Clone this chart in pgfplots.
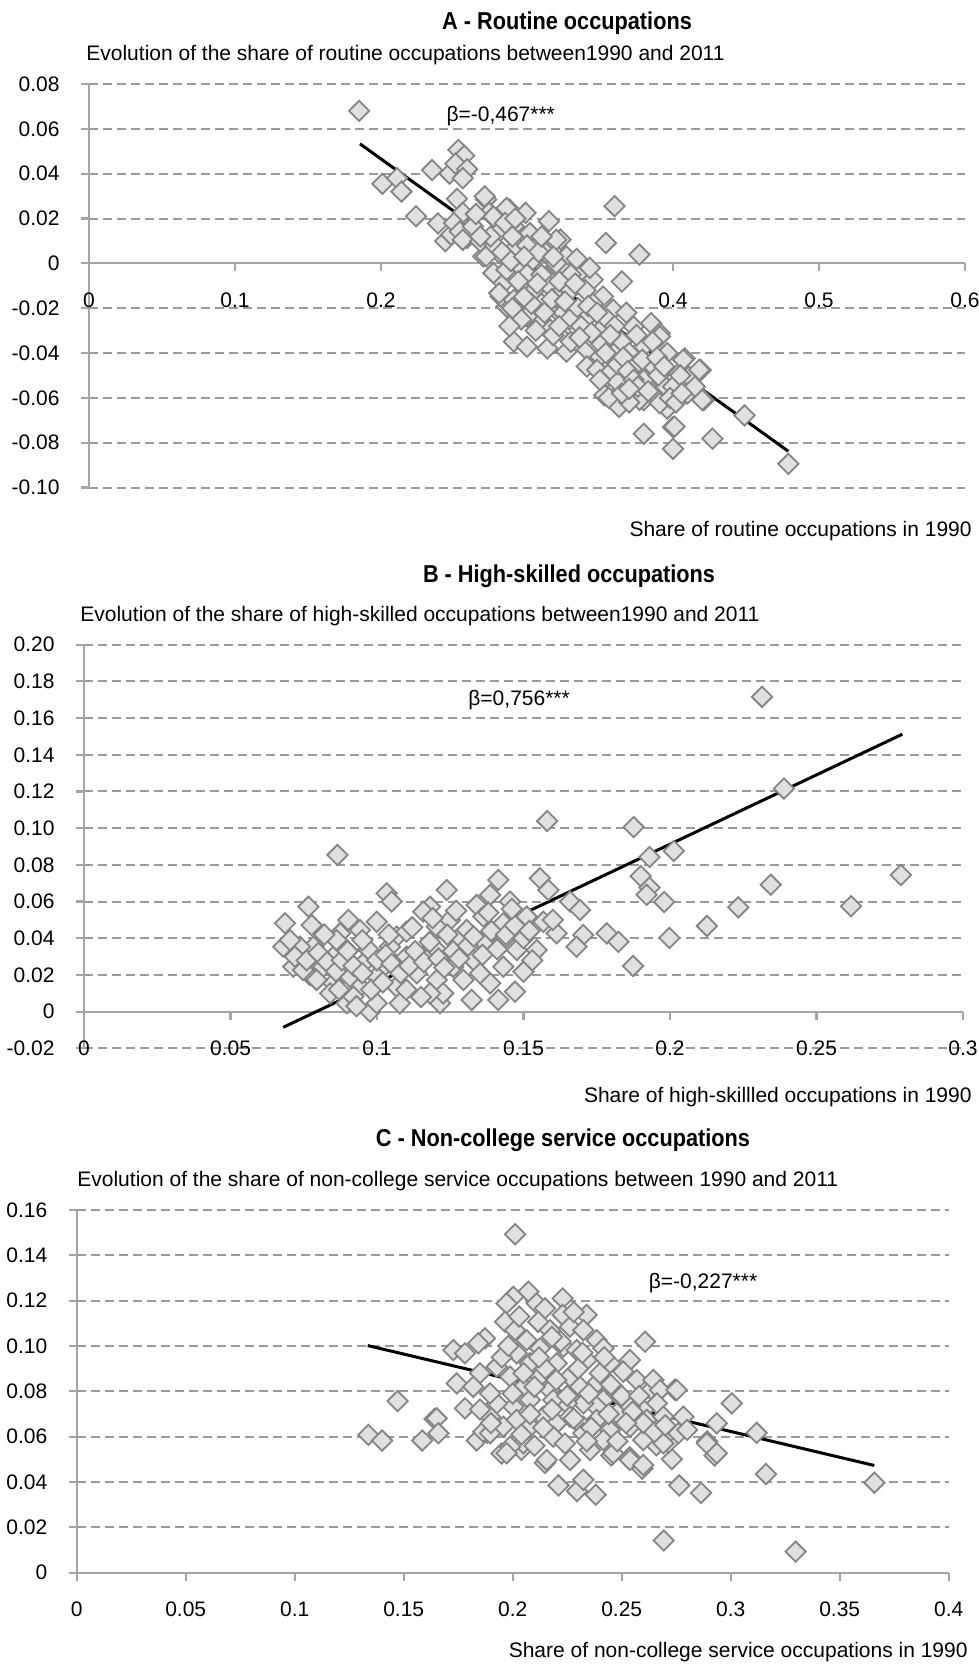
\documentclass[border=0pt]{standalone}
\usepackage{fontspec}
\setmainfont{Liberation Sans}
\newfontfamily\condfont{Liberation Sans}[FakeStretch=0.89]
\usepackage{pgfplots}
\pgfplotsset{compat=1.18}
\definecolor{gridgray}{HTML}{9A9A9A}
\definecolor{axgray}{HTML}{A5A5A5}
\definecolor{mfill}{HTML}{E0E0E2}
\definecolor{medge}{HTML}{858585}
\newcommand{\tf}{\fontsize{10.5}{12.6}\selectfont}
\newcommand{\ttl}{\condfont\fontsize{12.2}{14}\selectfont\bfseries}
\pgfplotsset{
  panel/.style={
    scale only axis,
    anchor=south west,
    axis x line=middle, axis y line=left,
    axis line style={draw=axgray, line width=1.1pt, -},
    tick style={draw=axgray, line width=1.1pt},
    major tick length=4pt,
    tick align=outside,
    ymajorgrids,
    major grid style={draw=gridgray, line width=1pt, dash pattern=on 4.5pt off 2.5pt},
    tick label style={font=\tf},
    xticklabel style={anchor=center, inner sep=0pt, yshift=-14.5pt},
    yticklabel style={anchor=east, inner sep=0pt, xshift=-10.5pt},
    hide obscured x ticks=false, hide obscured y ticks=false,
    clip=false,
  },
  pts/.style={only marks, mark=square*, mark size=3.6pt,
    mark options={rotate=45, fill=mfill, draw=medge, line width=0.9pt}},
  reg/.style={black, line width=1.5pt, no marks},
}
\begin{document}
\begin{tikzpicture}
\path[use as bounding box] (0,0) rectangle (489.5pt,833pt);
% ---------------- Panel A
\node[font=\ttl] at (283.5pt,821.5pt) {A - Routine occupations};
\node[font=\tf, anchor=west, inner sep=0pt] at (43pt,805.5pt) {Evolution of the share of routine occupations between1990 and 2011};
\node[font=\tf, anchor=east, inner sep=0pt] at (486pt,567.5pt) {Share of routine occupations in 1990};
\begin{axis}[panel, at={(44.5pt,589.2pt)}, width=438pt, height=201.8pt,
  xmin=0, xmax=0.6, ymin=-0.1, ymax=0.08,
  xtick={0,0.1,0.2,0.3,0.4,0.5,0.6}, xticklabels={0,0.1,0.2,0.3,0.4,0.5,0.6},
  ytick={-0.1,-0.08,-0.06,-0.04,-0.02,0,0.02,0.04,0.06,0.08},
  yticklabels={-0.10,-0.08,-0.06,-0.04,-0.02,0,0.02,0.04,0.06,0.08}]
\addplot[pts] table {
x y
0.185 0.068
0.201 0.0355
0.211 0.038
0.214 0.032
0.224 0.021
0.235 0.0416
0.247 0.040
0.253 0.0506
0.257 0.048
0.251 0.0445
0.259 0.042
0.256 0.038
0.239 0.0178
0.244 0.0099
0.248 0.0128
0.252 0.0288
0.253 0.0184
0.256 0.0225
0.259 0.0113
0.262 0.015
0.272 0.0285
0.274 0.0225
0.280 0.0188
0.288 0.024
0.299 0.0225
0.315 0.0188
0.323 0.0106
0.354 0.0091
0.360 0.0255
0.377 0.0039
0.365 -0.0081
0.291 -0.0349
0.300 -0.0372
0.314 -0.0379
0.327 -0.0394
0.346 -0.0461
0.353 -0.0588
0.359 -0.0603
0.363 -0.064
0.380 -0.076
0.400 -0.073
0.400 -0.0827
0.396 -0.0648
0.408 -0.0424
0.419 -0.0476
0.421 -0.061
0.427 -0.0782
0.449 -0.0678
0.479 -0.0894
0.385 -0.0267
0.391 -0.0312
0.393 -0.0536
0.404 -0.0491
0.410 -0.0536
0.380 -0.061
0.387 -0.0558
0.320 -0.0207
0.309 -0.0267
0.300 -0.0237
0.286 -0.0192
0.282 -0.0148
0.284 -0.0088
0.277 -0.0043
0.270 0.0031
0.320 0.0105
0.327 0.0031
0.336 -0.0043
0.345 -0.0073
0.352 -0.0148
0.359 -0.0207
0.373 -0.0282
0.361 -0.0341
0.350 -0.0415
0.341 -0.0386
0.327 -0.0326
0.316 -0.0296
0.355 -0.0505
0.371 -0.0505
0.382 -0.0475
0.387 -0.0579
0.391 -0.0624
0.371 -0.0594
0.409 -0.0534
0.411 -0.0505
0.418 -0.0475
0.407 -0.043
0.396 -0.040
0.391 -0.0326
0.395 -0.055
0.377 -0.0609
0.368 -0.055
0.341 -0.046
0.348 -0.0475
0.332 -0.0296
0.420 -0.0609
0.401 -0.0728
0.271 0.0299
0.286 0.0247
0.250 0.018
0.254 0.0142
0.256 0.0105
0.263 0.0165
0.268 0.0098
0.277 0.0209
0.280 0.0135
0.291 0.0165
0.302 0.0135
0.293 0.0075
0.281 0.0046
0.272 0.0031
0.286 -0.0029
0.295 -0.0014
0.304 0.0016
0.313 0.0046
0.281 -0.0133
0.291 -0.0163
0.304 -0.0103
0.313 -0.0058
0.300 -0.005
0.305 -0.012
0.310 -0.018
0.315 -0.010
0.320 -0.015
0.325 -0.022
0.330 -0.012
0.335 -0.020
0.340 -0.025
0.345 -0.018
0.350 -0.030
0.355 -0.025
0.360 -0.040
0.365 -0.035
0.370 -0.040
0.375 -0.045
0.380 -0.037
0.330 -0.035
0.318 -0.032
0.296 -0.025
0.290 -0.020
0.288 -0.028
0.310 -0.005
0.325 -0.003
0.340 -0.012
0.347 -0.035
0.358 -0.048
0.362 -0.053
0.370 -0.062
0.380 -0.052
0.385 -0.045
0.390 -0.050
0.400 -0.055
0.405 -0.050
0.410 -0.058
0.415 -0.055
0.398 -0.060
0.360 -0.028
0.368 -0.022
0.375 -0.032
0.300 0.008
0.308 0.005
0.320 0.000
0.330 -0.005
0.290 0.012
0.278 0.008
0.285 0.018
0.292 0.020
0.310 0.012
0.275 0.012
0.283 0.005
0.289 0.001
0.294 -0.008
0.298 0.003
0.303 -0.018
0.307 -0.009
0.312 -0.022
0.317 -0.016
0.322 -0.008
0.326 -0.017
0.329 -0.025
0.333 -0.009
0.337 -0.028
0.342 -0.019
0.344 -0.031
0.348 -0.022
0.351 -0.036
0.354 -0.040
0.357 -0.032
0.362 -0.045
0.366 -0.042
0.369 -0.048
0.373 -0.052
0.376 -0.055
0.379 -0.043
0.383 -0.057
0.386 -0.035
0.389 -0.042
0.394 -0.046
0.402 -0.062
0.406 -0.058
0.350 -0.052
0.356 -0.060
0.365 -0.058
0.370 -0.056
0.336 -0.033
0.322 -0.028
0.306 -0.030
0.298 -0.015
0.318 0.003
0.334 0.002
0.343 -0.002
0.265 0.022
0.268 0.012
};
\addplot[reg] coordinates {(0.1856,0.0533) (0.479,-0.0838)};
\node[font=\tf] at (axis cs:0.282,0.0655) {β=-0,467***};
\end{axis}
% ---------------- Panel B
\node[font=\ttl] at (284.5pt,545pt) {B - High-skilled occupations};
\node[font=\tf, anchor=west, inner sep=0pt] at (40pt,525pt) {Evolution of the share of high-skilled occupations between1990 and 2011};
\node[font=\tf, anchor=east, inner sep=0pt] at (486pt,284.5pt) {Share of high-skillled occupations in 1990};
\begin{axis}[panel, at={(42pt,308.8pt)}, width=439.5pt, height=201.85pt,
  xmin=0, xmax=0.3, ymin=-0.02, ymax=0.2,
  xtick={0,0.05,0.1,0.15,0.2,0.25,0.3}, xticklabels={0,0.05,0.1,0.15,0.2,0.25,0.3},
  ytick={-0.02,0,0.02,0.04,0.06,0.08,0.1,0.12,0.14,0.16,0.18,0.2},
  yticklabels={-0.02,0,0.02,0.04,0.06,0.08,0.10,0.12,0.14,0.16,0.18,0.20}]
\addplot[pts] table {
x y
0.0865 0.0854
0.1033 0.0645
0.1050 0.0600
0.1238 0.0663
0.1414 0.0718
0.1556 0.0727
0.1585 0.0663
0.1659 0.0600
0.1693 0.0554
0.1613 0.0427
0.1704 0.0418
0.1784 0.0427
0.1824 0.0381
0.1681 0.0354
0.1545 0.0336
0.1500 0.0218
0.1471 0.0109
0.1414 0.0064
0.1323 0.0064
0.1215 0.0046
0.0976 0.0000
0.0897 0.0046
0.0686 0.0482
0.0766 0.0572
0.0777 0.0472
0.0680 0.0354
0.0714 0.0245
0.0771 0.0200
0.0783 0.0354
0.0874 0.0427
0.0902 0.0500
0.0999 0.0490
0.0942 0.0445
0.1067 0.0409
0.1101 0.0436
0.1181 0.0572
0.1158 0.0545
0.1249 0.0500
0.1204 0.0463
0.1340 0.0581
0.1386 0.0636
0.1454 0.0600
0.1363 0.0518
0.1431 0.0482
0.1511 0.0518
0.1568 0.0490
0.1306 0.0445
0.1272 0.0390
0.1363 0.0372
0.1431 0.0390
0.1477 0.0336
0.1431 0.0245
0.1386 0.0155
0.1329 0.0282
0.1260 0.0245
0.1204 0.0173
0.1226 0.0100
0.1181 0.0100
0.1136 0.0209
0.1101 0.0300
0.1044 0.0354
0.1022 0.0245
0.1067 0.0136
0.1078 0.0046
0.0999 0.0046
0.0942 0.0136
0.0908 0.0191
0.0851 0.0155
0.0817 0.0245
0.0851 0.0300
0.0965 0.0282
0.0999 0.0191
0.1158 0.0300
0.1204 0.0336
0.1295 0.0173
0.1352 0.0209
0.0737 0.0354
0.0703 0.0390
0.0862 0.0390
0.0897 0.0336
0.0794 0.0173
0.0748 0.0227
0.0840 0.0100
0.0919 0.0082
0.072 0.030
0.076 0.028
0.080 0.032
0.083 0.027
0.086 0.022
0.088 0.028
0.092 0.025
0.095 0.021
0.097 0.034
0.100 0.028
0.103 0.031
0.105 0.026
0.108 0.021
0.111 0.025
0.113 0.033
0.116 0.027
0.118 0.038
0.121 0.029
0.123 0.024
0.126 0.033
0.128 0.029
0.131 0.036
0.133 0.041
0.136 0.031
0.139 0.044
0.141 0.034
0.144 0.042
0.147 0.047
0.150 0.040
0.152 0.044
0.095 0.039
0.098 0.012
0.102 0.016
0.110 0.012
0.115 0.008
0.082 0.042
0.090 0.033
0.104 0.042
0.112 0.046
0.124 0.042
0.119 0.051
0.127 0.055
0.138 0.054
0.146 0.056
0.160 0.050
0.153 0.028
0.087 0.012
0.093 0.003
0.2314 0.1716
0.2389 0.1216
0.1581 0.1039
0.1876 0.1006
0.2013 0.0876
0.1930 0.0843
0.1900 0.0739
0.1930 0.0676
0.1920 0.0637
0.1980 0.0598
0.2344 0.0692
0.2788 0.0745
0.2618 0.0575
0.2233 0.0569
0.2126 0.0467
0.1998 0.0402
0.1874 0.0249
};
\addplot[reg] coordinates {(0.068,-0.0085) (0.2793,0.1512)};
\node[font=\tf] at (axis cs:0.1485,0.1699) {β=0,756***};
\end{axis}
% ---------------- Panel C
\node[font=\ttl] at (281.5pt,263pt) {C - Non-college service occupations};
\node[font=\tf, anchor=west, inner sep=0pt] at (38.5pt,242.5pt) {Evolution of the share of non-college service occupations between 1990 and 2011};
\node[font=\tf, anchor=east, inner sep=0pt] at (484pt,7pt) {Share of non-college service occupations in 1990};
\begin{axis}[panel, at={(38.35pt,46.65pt)}, width=436pt, height=181.35pt,
  xmin=0, xmax=0.4, ymin=0, ymax=0.16,
  xtick={0,0.05,0.1,0.15,0.2,0.25,0.3,0.35,0.4}, xticklabels={0,0.05,0.1,0.15,0.2,0.25,0.3,0.35,0.4},
  ytick={0,0.02,0.04,0.06,0.08,0.1,0.12,0.14,0.16},
  yticklabels={0,0.02,0.04,0.06,0.08,0.10,0.12,0.14,0.16}]
\addplot[pts] table {
x y
0.2011 0.1493
0.1338 0.0608
0.1401 0.0583
0.1472 0.0757
0.1585 0.0583
0.1642 0.0678
0.3119 0.0617
0.3162 0.0435
0.3298 0.0093
0.3659 0.0397
0.2693 0.0142
0.2210 0.0385
0.2295 0.0360
0.2324 0.0410
0.2381 0.0344
0.2764 0.0385
0.2864 0.0352
0.2148 0.0484
0.2040 0.0542
0.1949 0.0526
0.1884 0.0617
0.1835 0.0583
0.2452 0.0517
0.2537 0.0509
0.2594 0.0459
0.2730 0.0501
0.2892 0.0579
0.2926 0.0517
0.2744 0.0807
0.2636 0.0807
0.2659 0.0562
0.2716 0.0575
0.2722 0.0625
0.2072 0.1240
0.2003 0.1217
0.2110 0.1188
0.2148 0.1166
0.2229 0.1210
0.2229 0.1137
0.2339 0.1137
0.1972 0.1188
0.1965 0.1107
0.2011 0.1070
0.2117 0.1107
0.2171 0.1070
0.2263 0.1085
0.2324 0.1070
0.2385 0.1026
0.1873 0.1034
0.1842 0.1012
0.1728 0.0982
0.1781 0.0968
0.2607 0.1019
0.2064 0.1026
0.2125 0.0990
0.2018 0.0968
0.2232 0.0997
0.2294 0.0982
0.2416 0.0990
0.2446 0.0924
0.2538 0.0938
0.2507 0.0887
0.2339 0.0938
0.2202 0.0924
0.2079 0.0924
0.1927 0.0909
0.1850 0.0880
0.1743 0.0835
0.1819 0.0820
0.1988 0.0865
0.2049 0.0820
0.2125 0.0865
0.2171 0.0806
0.2263 0.0865
0.2309 0.0820
0.2385 0.0835
0.2416 0.0762
0.2477 0.0791
0.2569 0.0850
0.2645 0.0850
0.2676 0.0806
0.2752 0.0806
0.3005 0.0747
0.2661 0.0747
0.2599 0.0718
0.2538 0.0732
0.2477 0.0703
0.2385 0.0732
0.2324 0.0747
0.2248 0.0747
0.2186 0.0762
0.2079 0.0762
0.2003 0.0732
0.1927 0.0747
0.1896 0.0791
0.1781 0.0725
0.1651 0.0681
0.1659 0.0615
0.1865 0.0622
0.1896 0.0688
0.1957 0.0644
0.2018 0.0674
0.2079 0.0644
0.2140 0.0688
0.2202 0.0659
0.2263 0.0688
0.2324 0.0644
0.2385 0.0674
0.2446 0.0629
0.2538 0.0644
0.2615 0.0674
0.2691 0.0688
0.2783 0.0688
0.2760 0.0615
0.2936 0.0659
0.2890 0.0571
0.2936 0.0527
0.2691 0.0571
0.2599 0.0585
0.2538 0.0497
0.2599 0.0475
0.2461 0.0527
0.2355 0.0541
0.2263 0.0497
0.2156 0.0497
0.2186 0.0600
0.2049 0.0571
0.1988 0.0556
0.1896 0.0615
0.1972 0.0527
0.2324 0.0615
0.2416 0.0585
0.195 0.095
0.205 0.088
0.210 0.082
0.215 0.090
0.220 0.085
0.225 0.078
0.230 0.090
0.235 0.079
0.240 0.088
0.245 0.083
0.250 0.078
0.255 0.071
0.260 0.066
0.265 0.062
0.200 0.079
0.208 0.070
0.218 0.072
0.228 0.068
0.236 0.064
0.244 0.070
0.252 0.066
0.258 0.078
0.198 0.100
0.212 0.095
0.222 0.102
0.232 0.097
0.242 0.095
0.185 0.072
0.190 0.066
0.204 0.061
0.214 0.064
0.224 0.057
0.234 0.058
0.270 0.065
0.280 0.063
0.248 0.058
0.210 0.056
0.203 0.113
0.218 0.104
0.228 0.115
};
\addplot[reg] coordinates {(0.1335,0.1002) (0.3659,0.0473)};
\node[font=\tf] at (axis cs:0.2873,0.1278) {β=-0,227***};
\end{axis}
\end{tikzpicture}
\end{document}
